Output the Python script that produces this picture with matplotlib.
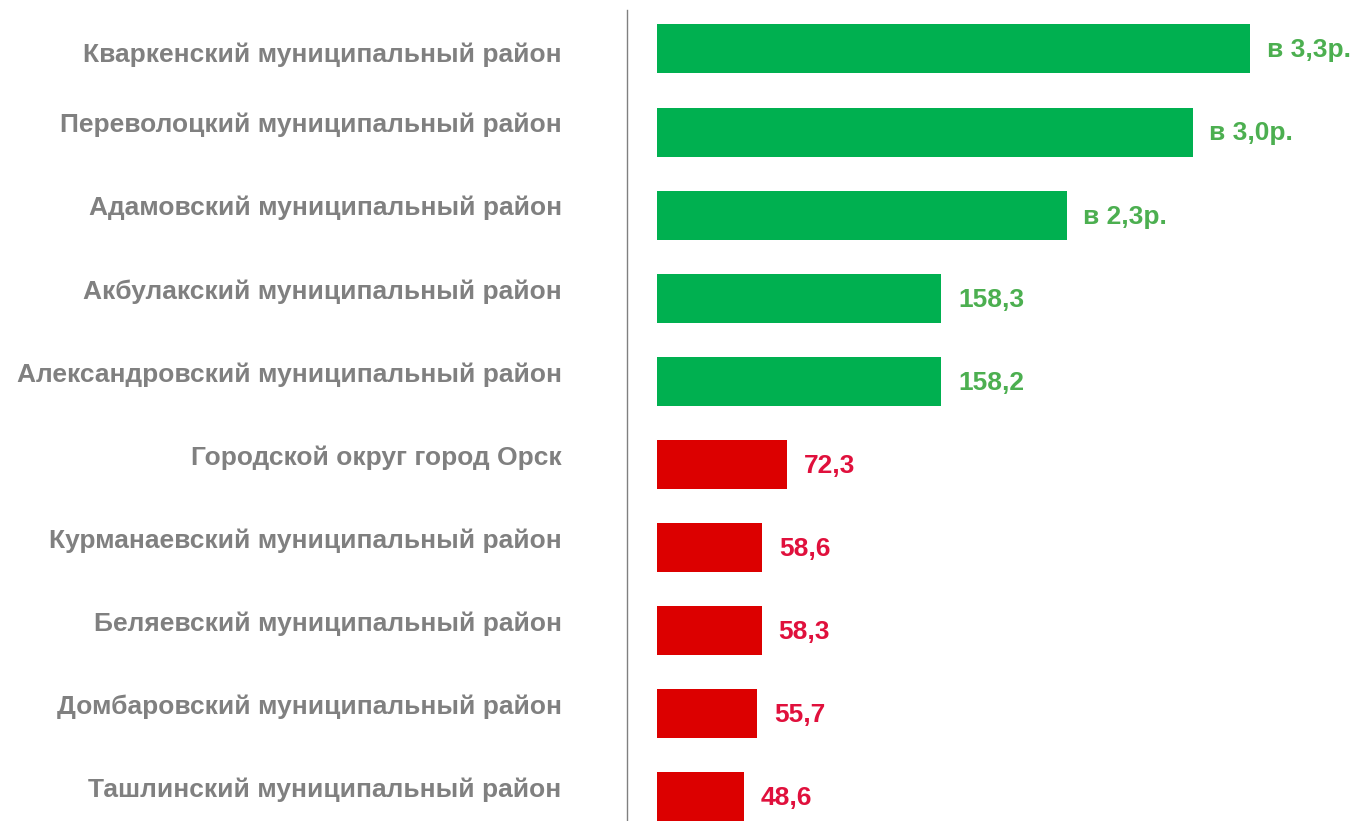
import matplotlib
matplotlib.use("Agg")
import matplotlib.pyplot as plt
from matplotlib import font_manager

# data
districts = [
    "Кваркенский муниципальный район",
    "Переволоцкий муниципальный район",
    "Адамовский муниципальный район",
    "Акбулакский муниципальный район",
    "Александровский муниципальный район",
    "Городской округ город Орск",
    "Курманаевский муниципальный район",
    "Беляевский муниципальный район",
    "Домбаровский муниципальный район",
    "Ташлинский муниципальный район",
]
values = [330, 298, 228, 158.3, 158.2, 72.3, 58.6, 58.3, 55.7, 48.6]
value_labels = ["в 3,3р.", "в 3,0р.", "в 2,3р.", "158,3", "158,2",
                "72,3", "58,6", "58,3", "55,7", "48,6"]

names = set(f.name for f in font_manager.fontManager.ttflist)
fam = "Liberation Sans Narrow" if "Liberation Sans Narrow" in names else "Liberation Sans"
plt.rcParams['font.family'] = [fam, 'DejaVu Sans']

bar_green = "#00b050"
bar_red = "#dc0000"
txt_green = "#4caf50"
txt_red = "#e0103c"
gray = "#808080"

fig = plt.figure(figsize=(13.55, 8.21), dpi=100)
ax = fig.add_axes([627/1355, 0, 1 - 627/1355, 1 - 10/821])

ypos = list(range(len(values)))
colors = [bar_green if v >= 100 else bar_red for v in values]
ax.barh(ypos, values, height=0.59, color=colors)

ax.set_xlim(-16.7, 388.4)
ax.set_ylim(9.29, -0.469)

for i, v in enumerate(values):
    c = txt_green if v >= 100 else txt_red
    ax.annotate(value_labels[i], (v, i), xytext=(12, -1), textcoords="offset points",
                ha="left", va="center", fontsize=19, fontweight="bold", color=c)
    # the first label sits a little lower than the others in the original
    dy = -4 if i == 0 else 5
    ax.annotate(districts[i], (0, i), xycoords=("axes fraction", "data"),
                xytext=(-47, dy), textcoords="offset points",
                ha="right", va="center", fontsize=19, fontweight="bold", color=gray)

for s in ["top", "right", "bottom"]:
    ax.spines[s].set_visible(False)
ax.spines["left"].set_color("#808080")
ax.spines["left"].set_linewidth(1)
ax.set_xticks([])
ax.set_yticks([])

fig.savefig("out.png", dpi=100)
